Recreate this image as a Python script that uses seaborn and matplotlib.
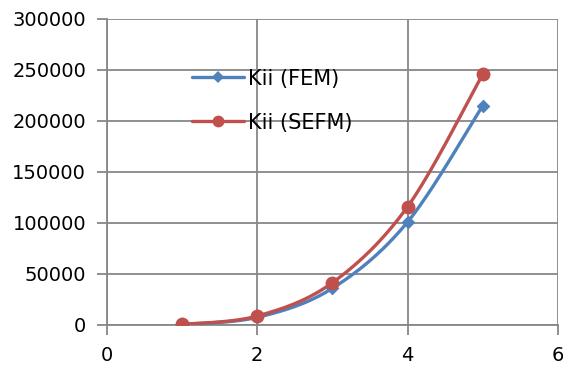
import numpy as np
import pandas as pd
import matplotlib
matplotlib.use("Agg")
import matplotlib.pyplot as plt
import seaborn as sns

# Stiffness values Kii for each element count
x_vals = [1, 2, 3, 4, 5]
kii_fem = [500, 7500, 36000, 101000, 215000]
kii_sefm = [600, 8800, 41500, 116000, 246000]
series_names = ["Kii (FEM)", "Kii (SEFM)"]
colors = ["#4F81BD", "#C0504D"]
markers = ["D", "o"]
marker_sizes = [7, 10]

x_ticks = [0, 2, 4, 6]
y_ticks = [0, 50000, 100000, 150000, 200000, 250000, 300000]


def smooth_curve(x, y, n=40):
    """Bezier spline through the points (tangent = neighbour difference / 6)."""
    x = np.asarray(x, float)
    y = np.asarray(y, float)
    pts = np.column_stack([x, y])
    out = []
    for i in range(len(pts) - 1):
        p0 = pts[max(i - 1, 0)]
        p1 = pts[i]
        p2 = pts[i + 1]
        p3 = pts[min(i + 2, len(pts) - 1)]
        c1 = p1 + (p2 - p0) / 6.0
        c2 = p2 - (p3 - p1) / 6.0
        t = np.linspace(0, 1, n, endpoint=(i == len(pts) - 2))[:, None]
        seg = ((1 - t) ** 3) * p1 + 3 * ((1 - t) ** 2) * t * c1 + 3 * (1 - t) * t ** 2 * c2 + t ** 3 * p2
        out.append(seg)
    seg = np.vstack(out)
    return seg[:, 0], seg[:, 1]


sns.set_theme(style="white")
plt.rcParams["font.family"] = ["DejaVu Sans"]
plt.rcParams["text.color"] = "black"

fig = plt.figure(figsize=(5.63, 3.71), dpi=100)
ax = fig.add_axes([0.190, 0.124, 0.801, 0.825])

grid_color = "#878787"
for name, ys, col, mk, ms in zip(series_names, [kii_fem, kii_sefm], colors, markers, marker_sizes):
    sx, sy = smooth_curve(x_vals, ys)
    curve = pd.DataFrame({"x": sx, "y": sy})
    sns.lineplot(data=curve, x="x", y="y", ax=ax, color=col, linewidth=2.4,
                 sort=False, estimator=None, zorder=3)
    pts = pd.DataFrame({"x": x_vals, "y": ys})
    sns.scatterplot(data=pts, x="x", y="y", ax=ax, color=col, marker=mk,
                    s=ms ** 2, edgecolor=col, linewidth=0, zorder=4)

ax.set_xlim(0, 6)
ax.set_ylim(0, 300000)
ax.set_xticks(x_ticks)
ax.set_yticks(y_ticks)
ax.set_xticklabels([str(v) for v in x_ticks])
ax.set_yticklabels([str(v) for v in y_ticks])
ax.set_xlabel("")
ax.set_ylabel("")

ax.grid(True, color=grid_color, linewidth=1.3)
ax.set_axisbelow(True)
for side in ["top", "right"]:
    ax.spines[side].set_visible(False)
for side in ["left", "bottom"]:
    ax.spines[side].set_color(grid_color)
    ax.spines[side].set_linewidth(1.3)

ax.tick_params(axis="both", which="major", direction="out", length=7, width=1.3,
               color=grid_color, labelsize=14, labelcolor="black",
               left=True, bottom=True)
ax.tick_params(axis="y", pad=8)
ax.tick_params(axis="x", pad=8)
for lbl in ax.get_xticklabels() + ax.get_yticklabels():
    lbl.set_clip_on(False)

handles = [
    plt.Line2D([], [], color=c, linewidth=2.4, marker=m, markersize=s * 0.85, markeredgewidth=0)
    for c, m, s in zip(colors, markers, marker_sizes)
]
leg = ax.legend(handles, series_names, loc="upper left", bbox_to_anchor=(0.17, 0.865),
                frameon=False, fontsize=15, handlelength=2.5, handletextpad=0.2,
                labelspacing=1.15, borderaxespad=0)
for txt in leg.get_texts():
    txt.set_color("black")

fig.savefig("out.png", dpi=100)
